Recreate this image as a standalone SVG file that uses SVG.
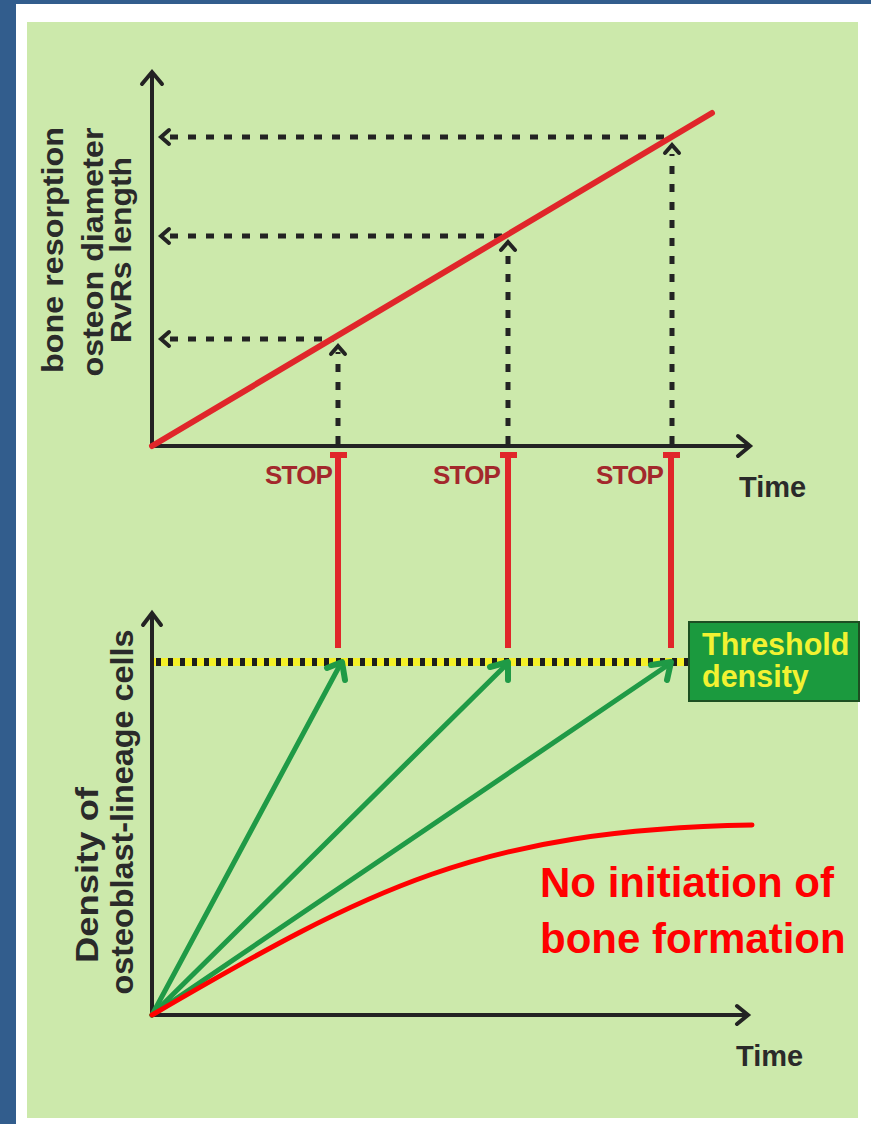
<svg xmlns="http://www.w3.org/2000/svg" width="871" height="1124" viewBox="0 0 871 1124">
  <defs>
    <style>
      .axis { stroke: #232323; stroke-width: 4; fill: none; }
      .dash { stroke: #232323; stroke-width: 5; fill: none; stroke-dasharray: 8 10; }
      .head { stroke: #232323; stroke-width: 4; fill: none; stroke-linecap: round; stroke-linejoin: miter; }
      .lbl { font-family: "Liberation Sans", Arial, sans-serif; font-weight: bold; fill: #2a2a2a; }
      .stop { font-family: "Liberation Sans", Arial, sans-serif; font-weight: bold; font-size: 26px; fill: #a3282c; letter-spacing: -0.8px; }
      .tbar { fill: #e0262a; }
      .green { stroke: #1f9a46; stroke-width: 5; fill: none; stroke-linecap: round; }
      .ghead { stroke: #1f9a46; stroke-width: 6; fill: none; stroke-linecap: round; stroke-linejoin: round; }
      .thr { font-family: "Liberation Sans", Arial, sans-serif; font-weight: bold; font-size: 30.5px; fill: #f2f232; }
      .note { font-family: "Liberation Sans", Arial, sans-serif; font-weight: bold; font-size: 42px; fill: #ff0000; }
    </style>
  </defs>

  <!-- frame -->
  <rect x="0" y="0" width="871" height="1124" fill="#ffffff"/>
  <rect x="0" y="0" width="16" height="1124" fill="#325d8d"/>
  <rect x="0" y="0" width="871" height="4" fill="#325d8d"/>
  <rect x="27" y="22" width="831" height="1096" fill="#cce9ab"/>

  <g id="connectors">
    <!-- top chart axes -->
    <line class="axis" x1="152" y1="72" x2="152" y2="447"/>
    <line class="axis" x1="150" y1="446" x2="748" y2="446"/>
    <polyline class="head" points="142,84 152,72 162,84"/>
    <polyline class="head" points="738,436 750,446 738,456"/>

    <!-- dashed horizontal -->
    <line class="dash" x1="170" y1="137" x2="668" y2="137"/>
    <line class="dash" x1="170" y1="236" x2="504" y2="236"/>
    <line class="dash" x1="170" y1="339" x2="334" y2="339"/>
    <polyline class="head" points="169,130 161,137 169,144"/>
    <polyline class="head" points="169,229 161,236 169,243"/>
    <polyline class="head" points="169,332 161,339 169,346"/>

    <!-- dashed vertical -->
    <line class="dash" x1="338" y1="444" x2="338" y2="352"/>
    <line class="dash" x1="508" y1="444" x2="508" y2="252"/>
    <line class="dash" x1="672" y1="444" x2="672" y2="154"/>
    <polyline class="head" points="331,354 338,346 345,354"/>
    <polyline class="head" points="501,250 508,242 515,250"/>
    <polyline class="head" points="665,153 672,145 679,153"/>

    <!-- red growth line -->
    <line x1="152" y1="446" x2="712" y2="113" stroke="#e0262a" stroke-width="6" stroke-linecap="round"/>

    <!-- STOP T-bars -->
    <rect class="tbar" x="335" y="452" width="6" height="196"/>
    <rect class="tbar" x="330" y="452" width="17" height="6"/>
    <rect class="tbar" x="505" y="452" width="6" height="196"/>
    <rect class="tbar" x="500" y="452" width="17" height="6"/>
    <rect class="tbar" x="668" y="452" width="6" height="196"/>
    <rect class="tbar" x="663" y="452" width="17" height="6"/>

    <!-- bottom chart axes -->
    <line class="axis" x1="152" y1="614" x2="152" y2="1016"/>
    <line class="axis" x1="150" y1="1015" x2="746" y2="1015"/>
    <polyline class="head" points="143,625 152,613 161,625"/>
    <polyline class="head" points="737,1006 748,1015 737,1024"/>

    <!-- threshold line -->
    <line x1="154" y1="662" x2="690" y2="662" stroke="#f4f028" stroke-width="8"/>
    <line x1="156" y1="662" x2="690" y2="662" stroke="#1e1e1e" stroke-width="8" stroke-dasharray="5 7"/>

    <!-- green arrows -->
    <line class="green" x1="152" y1="1015" x2="340" y2="665"/>
    <line class="green" x1="152" y1="1015" x2="506" y2="665"/>
    <line class="green" x1="152" y1="1015" x2="668" y2="665"/>
    <polyline class="ghead" points="327,668 342,662 345,680"/>
    <polyline class="ghead" points="490,667 508,662 508,680"/>
    <polyline class="ghead" points="651,665 671,662 667,680"/>

    <!-- red no-initiation curve -->
    <path d="M152,1015 C370,888 480,830 752,825" stroke="#ff0000" stroke-width="5" fill="none" stroke-linecap="round"/>
  </g>

  <g id="label-top-y">
    <text class="lbl" font-size="30" transform="translate(63,250) rotate(-90)" text-anchor="middle" textLength="246" lengthAdjust="spacingAndGlyphs">bone resorption</text>
    <text class="lbl" font-size="30" transform="translate(103,252) rotate(-90)" text-anchor="middle" textLength="249" lengthAdjust="spacingAndGlyphs">osteon diameter</text>
    <text class="lbl" font-size="30" transform="translate(131,250) rotate(-90)" text-anchor="middle" textLength="186" lengthAdjust="spacingAndGlyphs">RvRs length</text>
  </g>

  <g id="label-top-x">
    <text class="lbl" font-size="29" x="739" y="497">Time</text>
  </g>

  <g id="stop-1"><text class="stop" x="265" y="484">STOP</text></g>
  <g id="stop-2"><text class="stop" x="433" y="484">STOP</text></g>
  <g id="stop-3"><text class="stop" x="596" y="484">STOP</text></g>

  <g id="threshold">
    <rect x="689" y="622" width="170" height="79" fill="#1b9a3e" stroke="#1d4f22" stroke-width="2"/>
    <text class="thr" x="702" y="655">Threshold</text>
    <text class="thr" x="702" y="687">density</text>
  </g>

  <g id="label-bottom-y">
    <text class="lbl" font-size="31" transform="translate(98,875) rotate(-90)" text-anchor="middle" textLength="176" lengthAdjust="spacingAndGlyphs">Density of</text>
    <text class="lbl" font-size="31" transform="translate(133,812) rotate(-90)" text-anchor="middle" textLength="365" lengthAdjust="spacingAndGlyphs">osteoblast-lineage cells</text>
  </g>

  <g id="label-bottom-x">
    <text class="lbl" font-size="29" x="736" y="1066">Time</text>
  </g>

  <g id="no-initiation">
    <text class="note" x="540" y="897">No initiation of</text>
    <text class="note" x="540" y="953">bone formation</text>
  </g>
</svg>
